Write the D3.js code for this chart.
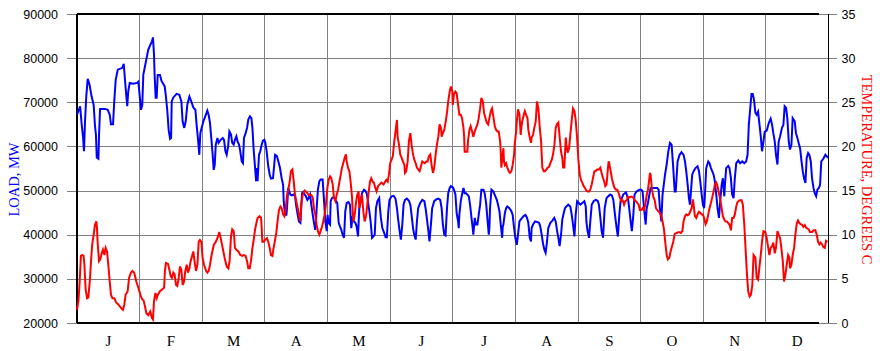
<!DOCTYPE html>
<html>
<head>
<meta charset="utf-8">
<script src="https://cdn.jsdelivr.net/npm/d3@7"></script>
<style>
  body { margin: 0; background: #fff; }
</style>
</head>
<body>
<svg id="chart" width="880" height="351"></svg>
<script>
// month labels along the bottom, ticks for both y axes
const months = ['J', 'F', 'M', 'A', 'M', 'J', 'J', 'A', 'S', 'O', 'N', 'D'];
const loadTicks = [20000, 30000, 40000, 50000, 60000, 70000, 80000, 90000];
const tempTicks = [0, 5, 10, 15, 20, 25, 30, 35];

// [day of year, MW]
const loadData = [
  [0,67200],[1.5,69100],[2.3,64900],[2.9,62300],[3.4,58900],[3.9,65700],[4.5,71300],[5.2,75300],[6.1,74000],[7.1,71300],
  [8.1,69400],[8.7,64900],[9.2,62600],[9.6,57500],[10.4,57200],[10.7,62600],[11.2,68500],[13.6,68500],[14.9,68300],[15.9,67200],
  [16.5,65000],[17.5,65000],[18.1,70200],[18.8,75100],[19.8,77400],[22.0,77800],[22.7,78700],[23.3,75100],[23.9,71700],[24.4,69100],
  [24.9,72500],[25.6,74400],[27.4,74200],[29.1,74400],[29.8,74700],[30.4,71700],[31.1,68300],[31.7,69400],[32.2,76200],[33.0,78100],
  [33.8,80000],[34.6,81900],[35.6,83000],[36.4,83800],[36.9,84700],[37.4,80800],[37.7,76200],[38.2,71000],[38.7,71000],[39.2,76200],
  [40.3,76200],[41.0,74900],[42.0,74100],[42.6,73600],[43.2,71300],[43.9,67900],[44.5,63800],[45.2,61700],[45.7,61900],[46.0,70200],
  [46.8,71100],[48.4,71900],[49.7,71700],[50.7,70200],[51.3,65700],[52.1,64200],[52.8,65700],[53.6,69500],[54.6,71300],[55.5,70200],
  [56.5,68800],[57.5,68300],[58.1,64900],[58.8,61500],[59.4,58100],[59.9,63000],[60.6,64300],[61.4,65700],[62.3,66800],[63.3,68100],
  [64.0,67000],[64.6,65300],[65.3,61500],[65.9,58100],[66.4,54700],[66.9,55900],[67.4,60400],[68.2,61900],[68.8,60800],[69.8,61500],
  [70.8,61900],[71.4,61500],[72.1,58900],[72.7,58100],[73.4,60000],[74.0,63400],[74.8,62700],[75.4,60800],[76.1,60400],[76.7,61500],
  [77.4,62300],[78.0,61100],[78.7,60400],[79.3,58900],[80.0,56600],[80.6,56200],[81.1,61900],[81.9,63000],[82.6,64200],[83.2,66100],
  [84.0,66800],[84.7,66400],[85.2,64200],[85.8,59300],[86.5,55100],[87.0,52100],[87.4,55100],[87.7,52100],[88.4,58100],[89.0,58900],
  [89.7,60400],[90.3,61300],[91.0,61500],[91.5,60800],[92.1,58900],[92.9,55500],[93.6,53600],[94.2,52700],[95.2,52800],[95.8,55900],
  [96.2,58100],[97.1,57800],[97.8,56600],[98.6,55100],[99.4,52800],[100.1,51300],[100.4,47600],[101.0,44500],[101.7,44500],[102.0,46000],
  [102.6,50600],[103.6,49100],[104.3,48900],[105.2,49100],[105.9,48700],[106.5,46400],[107.2,44500],[107.8,43000],[108.5,42700],[109.3,49400],
  [109.9,49700],[110.6,49100],[111.2,48700],[111.9,47900],[112.5,48300],[113.2,49100],[113.8,46800],[114.5,44500],[115.1,42700],[115.7,41100],
  [116.1,43000],[116.4,46000],[117.0,50200],[117.7,52100],[118.3,52500],[119.3,52500],[120.0,47600],[120.6,43000],[121.3,40800],[121.7,44500],
  [122.2,42700],[122.9,42300],[123.2,47600],[123.8,48300],[124.5,48500],[125.1,48300],[125.8,47600],[126.4,47200],[127.1,42700],[127.7,41900],
  [128.4,41100],[129.0,40000],[129.7,39300],[130.3,45300],[131.0,47200],[131.9,47400],[132.6,46800],[133.2,41500],[133.9,44200],[134.5,43000],
  [135.2,42700],[135.8,41900],[136.5,39600],[137.1,46000],[137.8,47600],[138.4,49400],[139.4,50200],[140.0,50000],[140.7,49400],[141.3,47600],
  [142.0,45300],[142.6,43000],[143.3,39300],[143.9,39600],[144.6,40000],[145.2,46000],[145.9,47600],[146.8,48300],[147.0,46800],[147.6,43800],
  [148.3,41500],[149.2,40400],[149.9,39400],[150.5,39400],[151.2,45300],[151.8,47900],[152.8,48700],[153.8,48800],[154.7,48200],[155.4,46000],
  [156.0,43400],[156.7,40800],[157.3,38900],[158.0,42300],[158.6,46800],[159.3,47900],[160.2,48200],[161.2,47700],[161.9,46800],[162.5,44500],
  [163.2,41500],[163.8,40000],[164.5,38900],[165.1,43000],[165.7,46000],[166.7,47200],[167.7,47900],[168.7,47600],[169.3,46000],[169.9,43800],
  [170.6,41100],[171.2,38500],[171.9,42300],[172.5,46000],[173.5,47600],[174.5,48000],[175.5,48200],[176.4,47900],[177.1,46000],[177.7,42300],
  [178.4,40000],[179.0,39800],[179.7,46000],[180.3,49400],[181.0,50600],[181.6,51000],[182.6,50700],[183.1,50200],[183.8,49100],[184.4,44900],
  [185.1,43000],[185.4,41500],[185.7,44500],[186.4,47600],[187.0,49100],[187.7,50600],[188.3,49400],[189.0,49400],[189.6,49100],[190.3,48700],
  [190.9,46800],[191.6,43800],[192.2,41500],[192.5,40000],[193.2,43800],[193.8,42300],[194.5,42300],[195.1,44500],[195.8,46800],[196.4,50200],
  [197.4,50200],[198.0,49400],[198.7,47200],[199.3,43800],[200.0,40000],[200.3,41500],[200.6,46000],[201.3,50200],[202.2,49800],[203.2,48700],
  [203.9,47900],[204.5,46800],[205.2,45300],[205.8,42300],[206.5,39300],[206.8,41900],[207.1,42300],[207.8,44900],[208.4,46000],[209.0,46400],
  [210.0,46000],[211.0,45300],[211.6,44500],[212.3,41500],[212.9,39300],[213.6,37700],[214.2,40000],[214.9,43000],[215.5,43400],[216.2,43800],
  [216.8,44200],[217.8,44500],[218.6,43800],[219.2,42700],[219.9,39300],[220.5,38500],[220.8,41500],[221.5,42300],[222.5,43000],[223.4,42900],
  [224.4,42700],[225.0,41900],[225.7,40000],[226.3,38100],[227.0,36600],[227.6,35900],[228.3,38500],[228.9,41500],[229.9,42700],[230.9,43200],
  [231.8,43800],[232.5,43000],[233.1,41100],[233.8,39300],[234.4,37400],[235.1,40000],[235.7,43400],[236.4,44900],[237.0,46000],[237.7,46400],
  [238.6,46800],[239.6,46400],[240.3,44500],[240.9,42300],[241.6,39600],[242.2,44500],[242.9,47600],[243.5,47300],[244.5,46800],[245.4,47200],
  [246.4,47600],[247.1,46400],[247.4,43000],[248.0,40800],[248.7,39300],[249.3,43000],[250.0,46800],[250.9,47600],[251.9,47900],[252.9,47700],
  [253.5,46800],[254.2,43800],[254.8,40800],[255.5,39300],[256.3,46000],[257.2,48300],[258.9,49100],[259.8,48900],[260.5,47900],[261.3,44500],
  [262.1,41500],[262.7,39600],[263.4,44500],[264.0,47600],[265.3,49100],[266.6,49600],[267.6,48300],[268.2,46000],[268.9,43000],[269.5,40800],
  [270.2,44500],[270.8,49100],[271.8,49800],[273.1,50200],[274.1,50200],[274.7,49800],[275.4,46000],[276.2,42300],[276.7,46000],[277.3,47200],
  [278.0,49100],[278.6,50600],[281.8,50600],[282.5,50200],[283.1,46000],[283.8,43000],[284.4,49100],[285.6,53600],[286.4,55900],[287.2,58900],
  [288.0,60800],[288.8,60400],[289.6,55100],[290.3,49800],[290.8,49800],[291.7,56600],[292.7,58100],[293.6,58700],[294.6,58100],[295.3,56600],
  [295.9,54400],[296.6,51300],[297.2,48300],[297.7,46800],[298.2,49800],[298.8,53600],[299.5,54400],[300.4,55100],[301.4,55500],[302.1,54400],
  [302.7,52100],[303.4,49100],[304.0,46800],[304.6,46000],[305.0,49100],[305.6,55100],[306.6,56600],[307.2,56200],[307.9,55100],[308.5,54400],
  [309.2,53600],[309.8,52100],[310.5,49100],[311.1,46000],[311.8,43800],[312.4,47600],[313.1,51300],[313.7,52800],[314.4,48700],[314.7,51300],
  [315.3,55100],[316.3,55600],[316.9,55100],[317.6,52800],[318.2,49100],[318.9,48300],[319.5,52800],[320.2,56200],[321.2,56800],[322.1,56200],
  [323.1,56600],[324.1,56200],[325.0,56600],[325.7,58100],[326.3,64900],[327.0,68700],[327.6,71900],[328.2,71900],[328.8,70600],[329.5,67600],
  [330.1,67200],[330.8,67900],[331.4,65300],[332.1,62300],[332.7,58900],[333.4,61100],[334.0,63300],[335.0,63600],[336.0,65300],[336.9,66300],
  [337.6,64900],[338.2,63000],[338.9,61100],[339.5,58100],[340.2,55900],[340.8,61100],[341.5,62300],[342.4,64200],[343.1,64900],[343.7,69100],
  [344.4,68700],[345.0,66400],[345.7,61100],[346.3,59300],[347.0,60400],[347.6,66400],[348.6,65700],[349.2,63000],[349.9,61900],[350.5,60800],
  [351.2,59600],[351.8,57000],[352.5,54400],[353.1,52800],[353.8,51700],[354.4,57400],[355.1,58500],[355.7,58100],[356.4,56600],[357.0,52800],
  [357.7,50600],[358.3,49400],[359.0,48700],[359.6,50200],[360.3,50600],[360.9,51300],[361.5,56600],[362.5,57200],[363.5,58100],[364.1,57800],
  [364.8,57400]
];

// [day of year, degrees C]
const tempData = [
  [0,1.5],[0.7,2.5],[1.3,4.7],[1.9,7.6],[2.6,7.7],[3.2,7.6],[3.6,6.6],[4.2,3.8],[4.9,2.8],[5.5,2.9],
  [6.2,4.7],[6.8,7.0],[7.4,8.9],[8.1,10.0],[8.7,11.1],[9.4,11.5],[9.7,10.8],[10.0,9.2],[10.7,7.0],[11.3,7.2],
  [12.0,7.9],[12.6,8.3],[13.3,7.7],[13.9,8.5],[14.6,8.1],[15.2,6.6],[15.9,4.7],[16.5,3.2],[17.2,2.8],[18.1,2.8],
  [19.1,2.3],[20.1,2.1],[20.7,1.9],[21.4,1.7],[22.3,1.5],[23.0,2.1],[23.6,3.2],[24.6,3.6],[25.3,5.1],[26.2,5.7],
  [26.9,5.9],[27.8,5.7],[28.8,4.7],[29.8,4.0],[30.8,3.2],[31.4,2.8],[32.4,2.5],[33.0,1.9],[33.7,1.1],[34.6,0.9],
  [35.6,1.3],[36.3,0.6],[36.9,0.4],[37.4,2.5],[38.1,3.4],[38.7,2.8],[39.3,3.2],[40.3,3.6],[41.3,3.8],[42.3,4.0],
  [42.7,5.9],[43.2,6.8],[44.2,6.7],[44.9,6.0],[45.5,5.3],[46.1,5.1],[46.8,5.7],[47.4,5.5],[48.1,4.3],[48.7,4.2],
  [49.4,5.1],[50.0,6.4],[50.7,6.0],[51.3,4.3],[52.0,4.7],[52.6,5.9],[53.3,6.6],[53.9,5.7],[54.6,6.2],[55.2,7.0],
  [55.9,7.6],[56.5,8.1],[57.2,6.8],[57.8,5.9],[58.5,6.6],[59.1,9.2],[59.7,9.4],[60.4,9.2],[61.0,7.4],[61.7,6.6],
  [62.7,5.9],[63.3,5.7],[64.0,5.9],[64.6,6.6],[65.3,7.6],[65.9,8.3],[66.5,8.9],[67.2,9.1],[67.8,9.4],[68.5,9.8],
  [69.1,10.3],[69.8,9.6],[70.4,8.9],[71.1,8.1],[71.7,7.4],[72.7,6.4],[73.5,6.2],[74.1,7.0],[74.8,9.8],[75.4,10.6],
  [76.1,10.4],[76.4,9.6],[76.7,8.5],[77.4,8.3],[78.4,8.1],[79.3,7.7],[80.3,7.6],[81.0,7.7],[81.9,7.6],[82.6,7.0],
  [83.2,6.2],[83.9,6.2],[84.5,7.0],[85.2,8.5],[85.8,9.4],[86.5,10.6],[87.1,11.3],[87.7,11.9],[88.7,12.1],[89.4,11.9],
  [89.7,10.8],[90.0,9.2],[90.7,9.2],[91.3,9.4],[92.3,9.6],[92.9,9.2],[93.6,8.5],[94.2,7.7],[94.9,7.6],[95.5,8.5],
  [96.2,9.4],[96.8,10.2],[97.5,11.7],[98.1,12.8],[98.8,13.2],[99.4,13.0],[100.1,12.3],[100.7,12.1],[101.3,12.8],[102.0,14.5],
  [102.6,15.1],[103.3,16.0],[103.9,17.2],[104.6,17.4],[105.2,16.2],[105.9,14.5],[106.5,13.8],[107.2,13.0],[107.8,12.3],[108.5,11.5],
  [108.9,13.4],[109.6,14.5],[110.6,15.0],[111.2,14.9],[111.9,14.7],[112.5,14.5],[113.8,14.5],[114.5,14.2],[115.1,13.0],[115.7,12.3],
  [116.4,11.1],[117.0,10.4],[117.7,10.0],[118.3,10.4],[119.0,10.9],[119.6,11.5],[120.3,12.3],[120.9,13.4],[121.6,15.3],[122.2,16.2],
  [122.9,16.6],[123.5,16.4],[124.2,15.7],[124.8,14.2],[125.5,13.8],[126.1,14.5],[126.8,15.1],[127.4,15.9],[128.1,16.8],[128.7,17.6],
  [129.3,18.1],[130.0,18.7],[130.6,19.1],[131.0,18.3],[131.6,17.6],[132.3,17.2],[132.9,16.0],[133.6,14.2],[133.9,12.6],[134.2,11.5],
  [134.9,12.3],[135.5,13.6],[136.1,14.5],[136.8,14.9],[137.1,13.0],[137.8,13.8],[138.4,14.5],[139.1,12.6],[139.7,11.5],[140.4,12.1],
  [141.0,13.4],[141.7,14.9],[142.3,16.0],[142.9,16.4],[143.6,16.0],[144.2,15.9],[144.9,15.3],[145.5,14.9],[146.2,15.5],[147.0,15.7],
  [147.9,15.9],[148.9,15.7],[149.6,16.0],[150.2,16.2],[150.9,16.0],[151.5,16.8],[152.1,18.1],[152.8,18.5],[153.4,18.9],[154.1,20.6],
  [154.7,21.7],[155.4,23.0],[155.7,21.1],[156.4,20.2],[157.0,19.1],[157.7,18.7],[158.3,18.3],[159.0,17.9],[159.3,17.0],[159.9,17.2],
  [160.6,18.3],[161.2,20.6],[161.9,21.5],[162.5,20.2],[163.2,19.1],[163.8,18.5],[164.5,18.1],[165.1,17.6],[165.7,17.4],[166.4,17.2],
  [167.0,17.7],[167.7,18.3],[168.3,18.2],[169.0,18.1],[169.6,18.3],[170.3,18.3],[170.9,18.9],[171.6,19.1],[172.2,17.9],[172.9,17.0],
  [173.5,17.6],[174.2,19.1],[174.8,20.2],[175.5,21.1],[176.1,22.5],[176.8,22.1],[177.1,21.1],[177.7,21.5],[178.4,21.9],[179.0,22.7],
  [179.7,23.8],[180.3,25.1],[181.0,26.2],[181.6,26.8],[182.3,26.2],[182.5,24.7],[183.1,25.9],[183.8,26.2],[184.4,26.0],[185.1,24.7],
  [185.7,23.6],[186.4,23.6],[187.0,23.2],[187.7,22.1],[188.0,21.3],[188.3,19.4],[189.6,19.4],[189.9,20.6],[190.6,21.9],[191.2,22.3],
  [191.9,21.7],[192.5,21.1],[193.2,21.7],[193.8,22.1],[194.5,22.5],[195.1,23.2],[195.8,24.3],[196.4,25.5],[197.1,25.1],[197.7,23.8],
  [198.4,23.2],[199.0,22.7],[199.7,22.5],[200.3,23.2],[201.0,24.0],[201.6,24.3],[202.2,23.4],[202.9,22.3],[203.5,21.9],[204.2,21.7],
  [204.8,21.7],[205.5,20.6],[205.8,19.4],[206.1,17.6],[206.5,18.5],[207.1,19.8],[207.4,18.3],[207.8,17.9],[208.4,18.1],[209.0,17.6],
  [209.7,17.2],[210.3,17.0],[211.0,17.2],[211.6,17.9],[212.3,19.1],[212.6,20.2],[213.3,21.7],[213.6,22.8],[214.2,24.2],[214.9,23.6],
  [215.2,22.5],[215.5,21.3],[215.8,22.1],[216.2,22.8],[216.8,23.4],[217.5,24.0],[218.1,23.6],[218.8,23.2],[219.2,21.9],[219.9,21.0],
  [220.5,20.4],[220.8,21.0],[221.5,21.3],[222.1,22.1],[222.8,22.8],[223.4,25.1],[224.1,24.3],[224.7,22.3],[225.4,20.6],[225.7,19.1],
  [226.0,17.6],[226.7,17.2],[227.3,17.2],[228.0,17.4],[228.6,17.6],[229.3,17.7],[229.9,18.1],[230.6,18.5],[231.2,19.1],[231.9,20.2],
  [232.5,22.1],[233.1,22.5],[233.8,22.7],[234.4,21.1],[235.1,19.4],[235.7,18.7],[236.1,17.6],[236.7,17.6],[237.4,21.0],[237.7,20.2],
  [238.3,19.3],[239.0,19.8],[239.6,21.3],[240.3,23.0],[240.9,24.3],[241.6,24.0],[242.2,23.0],[242.9,21.0],[243.5,18.5],[244.2,16.8],
  [244.8,16.2],[245.4,15.9],[246.1,15.5],[246.7,15.3],[247.4,15.0],[248.0,14.9],[248.7,14.9],[249.3,15.1],[250.0,15.7],[250.6,16.4],
  [251.3,17.2],[251.9,17.2],[252.6,17.4],[253.5,17.4],[254.2,17.6],[254.8,17.0],[255.5,16.4],[256.1,16.0],[256.6,15.5],[257.2,15.7],
  [257.9,17.6],[258.2,18.3],[258.5,18.1],[259.2,17.2],[259.8,16.4],[260.5,15.7],[261.1,15.3],[261.8,15.1],[262.4,15.1],[263.1,14.7],
  [263.7,14.2],[264.4,13.8],[265.0,13.9],[265.7,13.4],[266.3,13.8],[267.0,13.9],[267.6,14.3],[268.2,14.2],[268.9,14.3],[269.5,14.3],
  [270.2,14.2],[270.8,13.9],[271.5,13.8],[272.1,13.6],[272.8,13.4],[273.4,12.8],[274.1,12.8],[274.7,13.0],[275.4,12.8],[276.0,13.4],
  [276.7,14.5],[277.3,15.1],[278.0,16.4],[278.3,17.0],[278.6,16.8],[278.9,16.0],[279.3,15.1],[279.9,14.3],[280.6,13.9],[281.2,13.0],
  [281.8,12.8],[282.5,12.6],[283.1,12.5],[283.8,12.1],[284.4,11.5],[285.1,10.6],[285.7,9.2],[286.4,7.7],[287.0,7.2],[287.7,7.4],
  [288.3,8.1],[289.0,8.7],[289.6,9.2],[290.3,10.1],[291.2,10.2],[292.3,10.3],[293.3,10.2],[294.0,10.4],[294.6,11.5],[295.3,12.1],
  [295.9,12.3],[296.6,12.2],[297.2,12.3],[297.8,12.6],[298.5,13.0],[299.1,14.0],[299.5,13.4],[300.1,12.1],[300.8,11.9],[301.4,12.3],
  [302.1,12.6],[302.7,12.5],[303.4,12.3],[304.0,12.3],[304.6,11.9],[305.3,11.2],[305.9,11.5],[306.6,12.3],[307.2,13.0],[307.9,13.6],
  [308.5,14.2],[309.2,14.9],[309.8,15.7],[310.5,15.9],[311.1,15.5],[311.8,14.7],[312.4,14.0],[313.1,13.0],[313.7,12.1],[314.4,11.7],
  [315.0,11.5],[315.7,11.5],[316.3,11.3],[317.0,11.1],[317.6,10.5],[318.2,11.9],[318.9,11.9],[319.5,12.3],[320.2,13.2],[320.8,13.7],
  [321.8,13.9],[322.8,13.9],[323.4,13.4],[324.1,11.1],[324.7,8.5],[325.4,5.5],[326.0,3.6],[326.7,3.0],[327.3,3.2],[328.0,4.3],
  [328.6,7.7],[329.5,7.4],[330.1,5.1],[330.8,4.9],[331.4,6.2],[332.1,7.7],[332.7,9.2],[333.4,10.4],[334.3,10.3],[335.0,9.6],
  [335.6,8.7],[336.3,7.7],[336.9,8.5],[337.6,8.7],[338.2,9.1],[338.9,7.9],[339.5,8.5],[340.2,10.4],[340.8,10.0],[341.5,9.6],
  [342.1,8.5],[342.8,7.0],[343.4,4.7],[344.1,5.5],[344.7,6.6],[345.4,7.7],[346.0,7.4],[346.3,6.2],[347.0,6.6],[347.6,7.7],
  [348.3,8.5],[348.9,10.0],[349.6,11.3],[350.2,11.6],[350.9,11.3],[351.5,11.2],[352.2,11.1],[352.8,10.9],[353.5,11.1],[354.1,10.8],
  [354.7,10.7],[355.4,10.6],[356.0,10.3],[357.0,10.3],[357.7,10.5],[358.6,10.5],[359.3,10.0],[359.9,9.2],[360.6,8.9],[361.2,9.1],
  [361.9,8.9],[362.5,8.6],[363.2,8.5],[363.8,9.3],[364.5,9.2]
];

const margin = { top: 14, right: 51.5, bottom: 28, left: 77 };
const width = 880, height = 351;
const plotRight = width - margin.right;
const plotBottom = height - margin.bottom;
const gridColor = '#808080';

const svg = d3.select('#chart');

const x = d3.scaleLinear().domain([0, 365]).range([margin.left, plotRight]);
const xMonth = d3.scaleLinear().domain([0, months.length]).range([margin.left, plotRight]);
const yLoad = d3.scaleLinear().domain([20000, 90000]).range([plotBottom, margin.top]);
const yTemp = d3.scaleLinear().domain([0, 35]).range([plotBottom, margin.top]);

// left axis: tick lines run across the plot as the horizontal grid
const leftAxis = svg.append('g')
  .attr('transform', `translate(${margin.left - 10},0)`)
  .call(d3.axisLeft(yLoad).tickValues(loadTicks).tickSize(-(plotRight - margin.left + 10)).tickSizeOuter(0).tickPadding(9).tickFormat(d3.format('d')));
leftAxis.select('.domain').remove();
leftAxis.selectAll('.tick line').attr('stroke', gridColor).attr('shape-rendering', 'crispEdges');
leftAxis.attr('font-family', 'Arial, "Liberation Sans", sans-serif').attr('font-size', 12.5).attr('color', '#000');

// right axis: short ticks only
const rightAxis = svg.append('g')
  .attr('transform', `translate(${plotRight + 8},0)`)
  .call(d3.axisRight(yTemp).tickValues(tempTicks).tickSize(-8).tickSizeOuter(0).tickPadding(5));
rightAxis.select('.domain').remove();
rightAxis.selectAll('.tick line').attr('stroke', gridColor).attr('shape-rendering', 'crispEdges');
rightAxis.attr('font-family', 'Arial, "Liberation Sans", sans-serif').attr('font-size', 12.5).attr('color', '#000');

// month separators
svg.append('g').selectAll('line')
  .data(d3.range(1, months.length))
  .join('line')
  .attr('x1', d => xMonth(d)).attr('x2', d => xMonth(d))
  .attr('y1', margin.top).attr('y2', plotBottom)
  .attr('stroke', gridColor)
  .attr('shape-rendering', 'crispEdges');

// frame
const frame = svg.append('g').attr('stroke', '#000').attr('stroke-width', 1.5).attr('shape-rendering', 'crispEdges');
frame.append('line').attr('x1', margin.left).attr('x2', margin.left).attr('y1', margin.top).attr('y2', plotBottom);
frame.append('line').attr('x1', plotRight).attr('x2', plotRight).attr('y1', margin.top).attr('y2', plotBottom);
frame.append('line').attr('x1', margin.left).attr('x2', plotRight - 10).attr('y1', margin.top).attr('y2', margin.top);
frame.append('line').attr('x1', margin.left).attr('x2', plotRight - 10).attr('y1', plotBottom).attr('y2', plotBottom);

// month letters
svg.append('g').selectAll('text')
  .data(months)
  .join('text')
  .attr('x', (d, i) => xMonth(i + 0.5))
  .attr('y', 346)
  .attr('text-anchor', 'middle')
  .attr('font-family', '"Liberation Serif", "Times New Roman", serif')
  .attr('font-size', 15)
  .text(d => d);

// series
const loadLine = d3.line().x(d => x(d[0])).y(d => yLoad(d[1]));
const tempLine = d3.line().x(d => x(d[0])).y(d => yTemp(d[1]));

svg.append('path').datum(loadData)
  .attr('d', loadLine)
  .attr('fill', 'none').attr('stroke', '#0000ff').attr('stroke-width', 2);

svg.append('path').datum(tempData)
  .attr('d', tempLine)
  .attr('fill', 'none').attr('stroke', '#ff0000').attr('stroke-width', 2);

// axis titles
svg.append('text')
  .attr('transform', `translate(19,${(margin.top + plotBottom) / 2 + 11}) rotate(-90)`)
  .attr('text-anchor', 'middle')
  .attr('font-family', '"Liberation Serif", "Times New Roman", serif')
  .attr('font-size', 14.5)
  .attr('fill', '#0000ff')
  .text('LOAD, MW');

svg.append('text')
  .attr('transform', `translate(862,${(margin.top + plotBottom) / 2 + 1}) rotate(90)`)
  .attr('text-anchor', 'middle')
  .attr('font-family', '"Liberation Serif", "Times New Roman", serif')
  .attr('font-size', 14.5)
  .attr('fill', '#ff0000')
  .text('TEMPERATURE, DEGREES C');
</script>
</body>
</html>
